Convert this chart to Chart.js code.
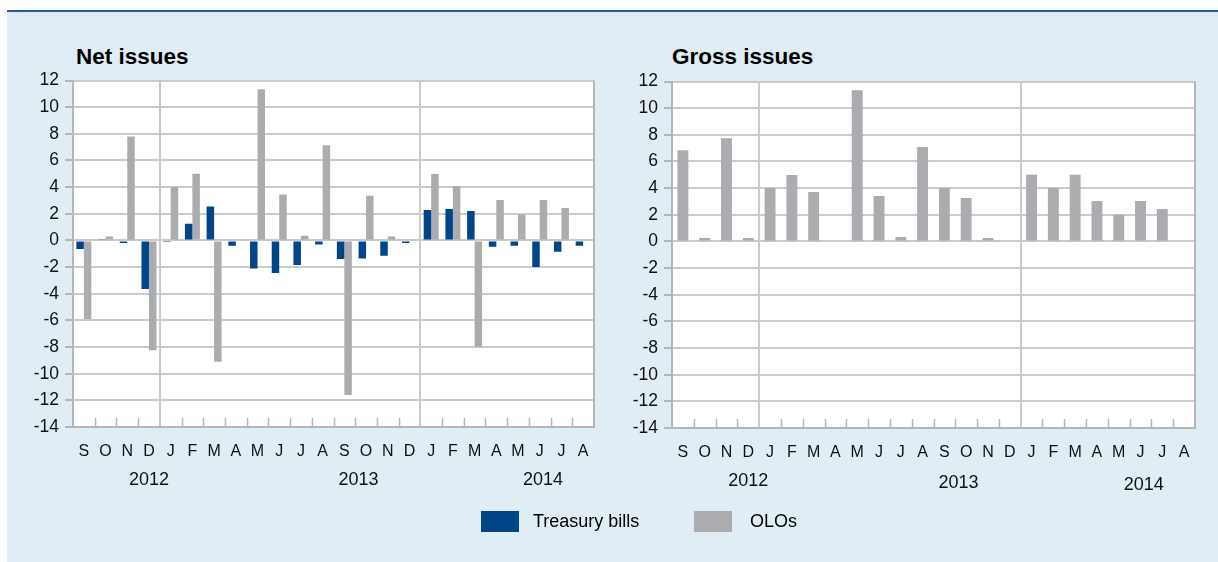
<!DOCTYPE html>
<html>
<head>
<meta charset="utf-8">
<script src="https://cdn.jsdelivr.net/npm/chart.js@4.4.1/dist/chart.umd.min.js"></script>
<style>
    body { margin: 0; background: #fff; width: 1218px; height: 562px; overflow: hidden; position: relative; font-family: "Liberation Sans", Arial, sans-serif; }
    #panel { position: absolute; left: 7px; top: 10px; right: 0; bottom: 0; background: #e0edf5; border-top: 2px solid #245b93; }
    .title { position: absolute; font-size: 22.5px; font-weight: bold; color: #000; }
    .box { position: absolute; }
    #legend { position: absolute; top: 510px; left: 0; width: 1218px; height: 24px; font-size: 18px; color: #000; }
    .lg-item { position: absolute; top: 0; height: 24px; line-height: 22px; }
    .lg-swatch { position: absolute; top: 1px; left: 0; width: 38px; height: 21px; }
    .lg-text { position: absolute; top: 0; white-space: nowrap; }
</style>
</head>
<body>
<div id="panel"></div>
<div class="title" style="left:76px; top:44px;">Net issues</div>
<div class="title" style="left:672px; top:44px;">Gross issues</div>
<div class="box" style="left:15px; top:64px; width:595px; height:446px;"><canvas id="netChart"></canvas></div>
<div class="box" style="left:614px; top:65px; width:597px; height:446px;"><canvas id="grossChart"></canvas></div>
<div id="legend">
    <div class="lg-item" style="left:481px;"><div class="lg-swatch" style="background:#00448a;"></div><div class="lg-text" style="left:52px;">Treasury bills</div></div>
    <div class="lg-item" style="left:694px;"><div class="lg-swatch" style="background:#abacb0;"></div><div class="lg-text" style="left:56px;">OLOs</div></div>
</div>
<script>
// months from Sep 2012 to Aug 2014
const months = ['S', 'O', 'N', 'D', 'J', 'F', 'M', 'A', 'M', 'J', 'J', 'A', 'S', 'O', 'N', 'D', 'J', 'F', 'M', 'A', 'M', 'J', 'J', 'A'];
const years = ['2012', '2013', '2014'];

// net issues (billions)
const netBills = [-0.65, 0.05, -0.2, -3.65, -0.05, 1.25, 2.55, -0.4, -2.1, -2.45, -1.85, -0.3, -1.4, -1.35, -1.15, -0.2, 2.28, 2.35, 2.2, -0.48, -0.4, -2.0, -0.85, -0.4];
const netOlos = [-5.9, 0.3, 7.8, -8.25, 4.0, 5.0, -9.1, 0, 11.35, 3.45, 0.35, 7.15, -11.6, 3.35, 0.3, 0, 4.98, 4.08, -7.98, 3.03, 1.95, 3.03, 2.43, 0];

// gross issues (billions)
const grossOlos = [6.85, 0.25, 7.75, 0.25, 4.0, 4.98, 3.7, 0, 11.35, 3.4, 0.33, 7.08, 4.0, 3.25, 0.25, 0, 5.0, 4.0, 5.0, 3.03, 2.0, 3.03, 2.43, 0];

const BLUE = '#00448a';
const GREY = '#abacb0';
const GRID = '#cbcbcb';
const AXIS = '#b6b6b6';
const FONT = "'Liberation Sans', Arial, sans-serif";

// where the year captions sit, in category units
const yearAt = [3, 12.65, 21.15];
const yearSep = [4, 16];

// plot area background, frame, small inner ticks and year captions
const framePlugin = {
    id: 'frame',
    beforeDraw(chart) {
        const a = chart.chartArea;
        const ctx = chart.ctx;
        ctx.save();
        ctx.fillStyle = '#fff';
        ctx.fillRect(a.left, a.top, a.right - a.left, a.bottom - a.top);
        ctx.restore();
    },
    afterDatasetsDraw(chart) {
        const a = chart.chartArea;
        const x = chart.scales.x;
        const ctx = chart.ctx;
        ctx.save();
        ctx.strokeStyle = AXIS;
        ctx.lineWidth = 1.5;
        ctx.beginPath();
        for (let i = 1; i < months.length; i++) {
            if (yearSep.includes(i)) continue;
            const px = Math.round(x.getPixelForValue(i - 0.5)) + 0.5;
            ctx.moveTo(px, a.bottom);
            ctx.lineTo(px, a.bottom - 9);
        }
        ctx.stroke();
        ctx.lineWidth = 2;
        ctx.beginPath();
        ctx.moveTo(a.right, a.top);
        ctx.lineTo(a.right, a.bottom);
        ctx.stroke();
        ctx.restore();
    },
    afterDraw(chart) {
        const a = chart.chartArea;
        const x = chart.scales.x;
        const ctx = chart.ctx;
        ctx.save();
        ctx.fillStyle = '#111';
        ctx.font = '18px ' + FONT;
        ctx.textAlign = 'center';
        ctx.textBaseline = 'middle';
        years.forEach((y, i) => {
            ctx.fillText(y, x.getPixelForValue(yearAt[i]), a.bottom + 53 + (chart.options.yearDrop || 0) * i);
        });
        ctx.restore();
    }
};

function makeOptions() {
    return {
        responsive: true,
        maintainAspectRatio: false,
        animation: false,
        layout: { padding: { left: 8, top: 9, right: 16, bottom: 43 } },
        plugins: {
            legend: { display: false },
            tooltip: { enabled: false }
        },
        scales: {
            x: {
                offset: true,
                grid: {
                    offset: true,
                    drawTicks: false,
                    lineWidth: 2,
                    color: ctx => yearSep.includes(ctx.index) ? GRID : 'transparent'
                },
                border: { display: true, color: AXIS, width: 2 },
                ticks: {
                    autoSkip: false,
                    maxRotation: 0,
                    padding: 15,
                    color: '#111',
                    font: { family: FONT, size: 16 }
                },
                afterFit(scale) { scale.height = 40; }
            },
            y: {
                min: -14,
                max: 12,
                ticks: {
                    stepSize: 2,
                    padding: 6,
                    color: '#111',
                    font: { family: FONT, size: 17.5 }
                },
                grid: { color: GRID, lineWidth: 2, tickLength: 8, tickColor: AXIS },
                border: { display: true, color: AXIS, width: 2 },
                afterFit(scale) { scale.width = 50; }
            }
        }
    };
}

new Chart(document.getElementById('netChart'), {
    type: 'bar',
    data: {
        labels: months,
        datasets: [
            { label: 'Treasury bills', data: netBills, backgroundColor: BLUE, borderWidth: 0, barPercentage: 1.0, categoryPercentage: 0.69 },
            { label: 'OLOs', data: netOlos, backgroundColor: GREY, borderWidth: 0, barPercentage: 1.0, categoryPercentage: 0.69 }
        ]
    },
    options: makeOptions(),
    plugins: [framePlugin]
});

const grossOpts = makeOptions();
grossOpts.yearDrop = 2;
new Chart(document.getElementById('grossChart'), {
    type: 'bar',
    data: {
        labels: months,
        datasets: [
            { label: 'OLOs', data: grossOlos, backgroundColor: GREY, borderWidth: 0, barPercentage: 0.5, categoryPercentage: 1.0 }
        ]
    },
    options: grossOpts,
    plugins: [framePlugin]
});
</script>
</body>
</html>
